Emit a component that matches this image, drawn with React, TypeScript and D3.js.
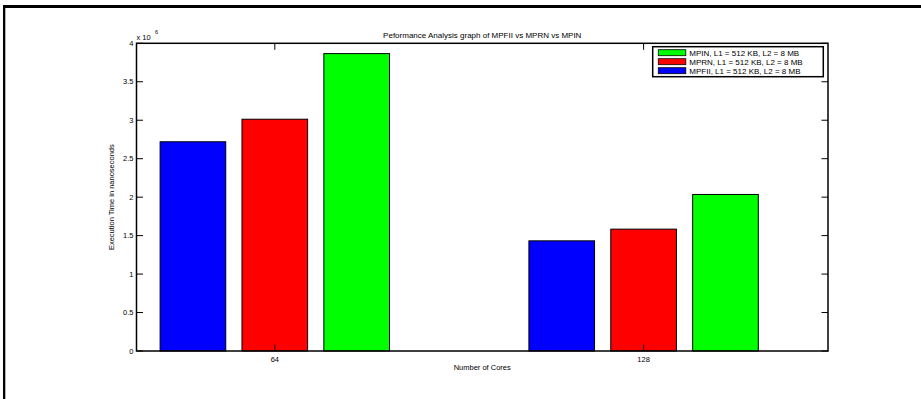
import React from "react";
import * as d3 from "d3";

const categories = ["64", "128"];
const seriesNames = [
  "MPFII, L1 = 512 KB, L2 = 8 MB",
  "MPRN, L1 = 512 KB, L2 = 8 MB",
  "MPIN, L1 = 512 KB, L2 = 8 MB",
];
const seriesColors = ["#0000ff", "#ff0000", "#00ff00"];
const mpfii = [2.72e6, 1.432e6];
const mprn = [3.013e6, 1.584e6];
const mpin = [3.866e6, 2.035e6];
const yTicks = [0, 0.5e6, 1e6, 1.5e6, 2e6, 2.5e6, 3e6, 3.5e6, 4e6];

const FONT = "'Liberation Sans', Arial, Helvetica, sans-serif";

export default function App() {
  const W = 921, H = 399;
  const left = 136.5, right = 828, top = 43.3, bottom = 351;
  const x = d3.scaleLinear().domain([0.625, 2.5]).range([left, right]);
  const y = d3.scaleLinear().domain([0, 4e6]).range([bottom, top]);
  const series = [mpfii, mprn, mpin];
  const barW = 0.178;
  const offs = [-0.222, 0, 0.222];
  const tickLen = 6.5;
  const legendOrder = [2, 1, 0];
  const lx = 652.7, ly = 46.7, lw = 170.6, lh = 30;

  return (
    <div style={{ position: "absolute", left: 0, top: 0 }}>
      <svg width={W} height={H} style={{ display: "block", fontFamily: FONT }}>
        <rect x={0} y={0} width={W} height={H} fill="#fff" />
        {/* outer frame */}
        <rect x={3} y={5} width={W - 3} height={3} fill="#000" />
        <rect x={3} y={5} width={2.3} height={H - 5} fill="#000" />

        {/* bars */}
        {series.map((vals, si) =>
          vals.map((v, ci) => {
            const x0 = x(ci + 1 + offs[si] - barW / 2);
            const x1 = x(ci + 1 + offs[si] + barW / 2);
            return (
              <rect
                key={`${si}-${ci}`}
                x={x0}
                y={y(v)}
                width={x1 - x0}
                height={y(0) - y(v)}
                fill={seriesColors[si]}
                stroke="#000"
                strokeWidth={1}
              />
            );
          })
        )}

        {/* axes box */}
        <rect x={left} y={top} width={right - left} height={bottom - top} fill="none" stroke="#000" strokeWidth={1.5} />

        {/* y ticks */}
        {yTicks.map((t) => (
          <g key={t}>
            <line x1={left} x2={left + tickLen} y1={y(t)} y2={y(t)} stroke="#000" strokeWidth={1} />
            <line x1={right} x2={right - tickLen} y1={y(t)} y2={y(t)} stroke="#000" strokeWidth={1} />
            <text x={left - 3} y={y(t)} dy="0.35em" textAnchor="end" fontSize={7.5} fill="#000">
              {d3.format("")(t / 1e6)}
            </text>
          </g>
        ))}

        {/* x ticks */}
        {categories.map((c, i) => (
          <g key={c}>
            <line x1={x(i + 1)} x2={x(i + 1)} y1={bottom} y2={bottom - tickLen} stroke="#000" strokeWidth={1} />
            <line x1={x(i + 1)} x2={x(i + 1)} y1={top} y2={top + tickLen} stroke="#000" strokeWidth={1} />
            <text x={x(i + 1)} y={bottom + 11} textAnchor="middle" fontSize={7.5} fill="#000">
              {c}
            </text>
          </g>
        ))}

        {/* exponent */}
        <text x={left} y={39.5} fontSize={7.5} fill="#000">
          x 10
        </text>
        <text x={left + 18.5} y={34} fontSize={5.5} fill="#000">
          6
        </text>

        {/* title */}
        <text x={(left + right) / 2} y={38} textAnchor="middle" fontSize={8} fill="#000">
          Peformance Analysis graph of MPFII vs MPRN vs MPIN
        </text>

        {/* axis labels */}
        <text x={(left + right) / 2} y={369.5} textAnchor="middle" fontSize={7.5} fill="#000">
          Number of Cores
        </text>
        <text
          transform={`translate(114, ${(top + bottom) / 2}) rotate(-90)`}
          textAnchor="middle"
          fontSize={7.5}
          fill="#000"
        >
          Execution Time in nanoseconds
        </text>

        {/* legend */}
        <rect x={lx} y={ly} width={lw} height={lh} fill="#fff" stroke="#000" strokeWidth={1.5} />
        {legendOrder.map((si, k) => {
          const cy = ly + 6 + k * 9;
          return (
            <g key={si}>
              <rect x={lx + 5.6} y={cy - 3} width={27.5} height={6} fill={seriesColors[si]} stroke="#000" strokeWidth={0.8} />
              <text x={lx + 36.6} y={cy} dy="0.35em" fontSize={8} fill="#000">
                {seriesNames[si]}
              </text>
            </g>
          );
        })}
      </svg>
    </div>
  );
}
